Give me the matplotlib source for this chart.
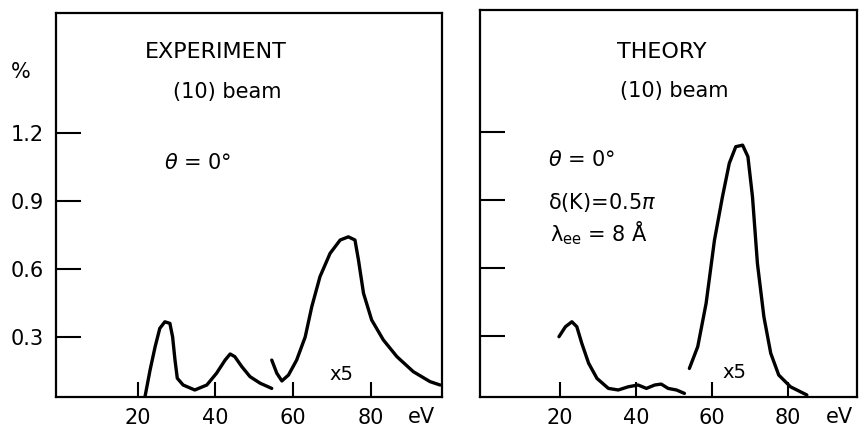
import numpy as np
import matplotlib
matplotlib.use('Agg')
from matplotlib import pyplot as plt

# experiment, (10) beam, low energy part
exp_x1 = [21.9, 23.2, 24.5, 25.7, 27.0, 28.3, 29.0, 29.6, 30.2, 31.7, 34.7, 37.8,
          40.3, 42.5, 43.8, 45.0, 46.8, 48.9, 51.5, 54.5]
exp_y1 = [0.037, 0.154, 0.257, 0.338, 0.367, 0.36, 0.30, 0.20, 0.118, 0.088, 0.066, 0.088,
          0.14, 0.198, 0.225, 0.213, 0.169, 0.125, 0.096, 0.073]
# experiment, x5 part
exp_x2 = [54.5, 55.8, 57.1, 58.8, 60.9, 63.1, 64.8, 66.9, 69.5, 72.1, 74.2, 75.9,
          76.8, 78.1, 80.2, 83.2, 86.7, 90.9, 95.2, 97.8]
exp_y2 = [0.198, 0.14, 0.106, 0.132, 0.198, 0.30, 0.434, 0.566, 0.669, 0.728, 0.742, 0.728,
          0.64, 0.493, 0.375, 0.287, 0.213, 0.147, 0.103, 0.088]

# theory, (10) beam
th_x1 = [19.8, 21.5, 23.2, 24.5, 25.8, 27.6, 29.8, 32.8, 35.4, 38.0, 40.6, 42.8,
         45.0, 46.7, 48.5, 50.7, 52.8]
th_y1 = [0.297, 0.341, 0.363, 0.341, 0.268, 0.18, 0.113, 0.069, 0.062, 0.076, 0.084, 0.069,
         0.084, 0.088, 0.069, 0.062, 0.047]
th_x2 = [54.1, 56.3, 58.5, 60.7, 62.8, 64.6, 66.3, 68.1, 69.5, 70.7, 72.0, 73.7,
         75.5, 77.6, 80.7, 85.0]
th_y2 = [0.157, 0.253, 0.444, 0.723, 0.914, 1.062, 1.135, 1.142, 1.091, 0.914, 0.62, 0.385,
         0.224, 0.128, 0.076, 0.04]

yticks = [0.3, 0.6, 0.9, 1.2]
ylabels = ['0.3', '0.6', '0.9', '1.2']
xticks = [20, 40, 60, 80]
xlabels = ['20', '40', '60', '80']

plt.rcParams['font.family'] = ['DejaVu Sans']
fs = 15
fig = plt.figure(figsize=(8.6, 4.28), dpi=100)
ax1 = fig.add_axes([0.0651, 0.0724, 0.4489, 0.8972])
ax2 = fig.add_axes([0.558, 0.0724, 0.439, 0.9042])

for ax in (ax1, ax2):
    ax.set_xlim(-1, 98.3)
    for s in ax.spines.values():
        s.set_linewidth(1.6)
    ax.set_xticks(xticks)
    ax.set_xticklabels(xlabels, fontsize=fs)
    ax.set_yticks(yticks)
    ax.tick_params(axis='y', direction='in', length=18, width=1.5)
    ax.tick_params(axis='x', direction='in', length=11, width=1.5, pad=8)

ax1.set_ylim(0.035, 1.73)
ax2.set_ylim(0.031, 1.738)
ax1.set_yticklabels(ylabels, fontsize=fs)
ax1.tick_params(axis='y', pad=9)
ax2.set_yticklabels([])

lw = 2.4
kw = dict(color='black', lw=lw, solid_joinstyle='round', solid_capstyle='round')
ax1.plot(exp_x1, exp_y1, **kw)
ax1.plot(exp_x2, exp_y2, **kw)
ax2.plot(th_x1, th_y1, **kw)
ax2.plot(th_x2, th_y2, **kw)

# labels (pixel positions converted to figure fractions)
def ftext(px, py, s, ha='center', **kw):
    fig.text(px / 860, 1 - py / 428, s, ha=ha, va='center', **kw)

ftext(21, 72, '%', fontsize=fs)
ftext(216, 52, 'EXPERIMENT', fontsize=16)
ftext(227, 92, '(10) beam', fontsize=15)
ftext(198, 163, r'$\theta$ = 0°', fontsize=15)
ftext(341, 374, 'x5', fontsize=14)
ftext(421, 417, 'eV', fontsize=fs)

ftext(662, 52, 'THEORY', fontsize=16)
ftext(674, 91, '(10) beam', fontsize=15)
ftext(548, 160, r'$\theta$ = 0°', ha='left', fontsize=15)
ftext(548, 203, r'δ(K)=0.5$\pi$', ha='left', fontsize=15)
ftext(550, 233, r'λ$_{\rm ee}$ = 8 Å', ha='left', fontsize=15)
ftext(734, 372, 'x5', fontsize=14)
ftext(839, 417, 'eV', fontsize=fs)

plt.savefig('out.png', dpi=100)
